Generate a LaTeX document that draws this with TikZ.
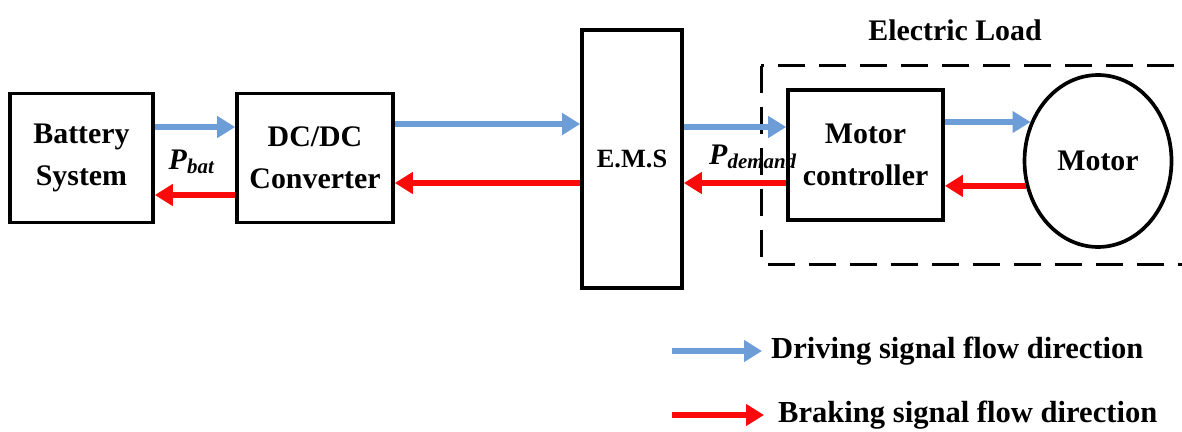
\documentclass[tikz,border=0pt]{standalone}
\usepackage{fontspec}
\setmainfont{Liberation Serif}
\usepackage{tikz}
\usetikzlibrary{arrows.meta,shapes.geometric}
\definecolor{driveblue}{RGB}{108,157,214}
\definecolor{brakered}{RGB}{250,10,10}
\tikzset{
  blk/.style={draw, line width=2.1pt, align=center, font=\bfseries\fontsize{17}{24}\selectfont},
  drive/.style={-{Triangle[length=0.36cm,width=0.42cm]}, line width=0.12cm, draw=driveblue, fill=driveblue},
  brake/.style={-{Triangle[length=0.36cm,width=0.42cm]}, line width=0.12cm, draw=brakered, fill=brakered},
  lbl/.style={font=\bfseries\fontsize{17}{24}\selectfont}
}
\begin{document}
\begin{tikzpicture}[x=0.02cm, y=-0.02cm]
\useasboundingbox (0,0) rectangle (1182,432);
% Blocks
\node[blk, minimum width=2.86cm, minimum height=2.58cm] (bat) at (81.5,158) {Battery\\System};
\node[blk, minimum width=3.12cm, minimum height=2.58cm] (dc) at (315,158) {DC/DC\\Converter};
\node[blk, minimum width=2.0cm, minimum height=5.16cm, font=\bfseries\fontsize{15}{20}\selectfont] (ems) at (632,159) {E.M.S};
\node[blk, minimum width=3.1cm, minimum height=2.6cm] (mc) at (865.5,155) {Motor\\controller};
\node[blk, ellipse, inner sep=0pt, minimum width=2.94cm, minimum height=3.44cm] (motor) at (1098,161) {Motor};

% Electric load frame
\draw[line width=0.06cm, dash pattern=on 0.54cm off 0.28cm] (761,66) rectangle (1200,264);
\node[lbl] (load) at (955,30) {Electric Load};

% Driving flow
\draw[drive] ([yshift=0.62cm]bat.east) -- ([yshift=0.62cm]bat.east -| dc.west);
\draw[drive] ([yshift=0.68cm]dc.east) -- ([yshift=0.68cm]dc.east -| ems.west);
\draw[drive] ([yshift=0.56cm]ems.east |- mc.center) -- ([yshift=0.56cm]mc.west);
\draw[drive] (mc.east |- motor.150) -- (motor.150);

% Braking flow
\draw[brake] (motor.199) -- (mc.east |- motor.199);
\draw[brake] ([yshift=-0.56cm]mc.west) -- ([yshift=-0.56cm]ems.east |- mc.center);
\draw[brake] ([yshift=-0.5cm]ems.west |- dc.center) -- ([yshift=-0.5cm]dc.east);
\draw[brake] ([yshift=-0.74cm]dc.west) -- ([yshift=-0.74cm]bat.east);

% Power labels
\node[lbl] (pbat) at (192,162) {\textit{P}\textsubscript{\textit{bat}}};
\node[lbl, anchor=west] (pdem) at (703,157) {\textit{P}\textsubscript{\textit{demand}}};

% Legend
\coordinate (d1) at (672,351);
\coordinate (d2) at (762,351);
\coordinate (b1) at (672,415);
\coordinate (b2) at (764,415);
\draw[drive] (d1) -- (d2);
\draw[brake] (b1) -- (b2);
\node[lbl, anchor=west, font=\bfseries\fontsize{17.4}{24}\selectfont] (dtxt) at (765,351) {Driving signal flow direction};
\node[lbl, anchor=west, font=\bfseries\fontsize{17.4}{24}\selectfont] (btxt) at (772,415) {Braking signal flow direction};
\end{tikzpicture}
\end{document}
